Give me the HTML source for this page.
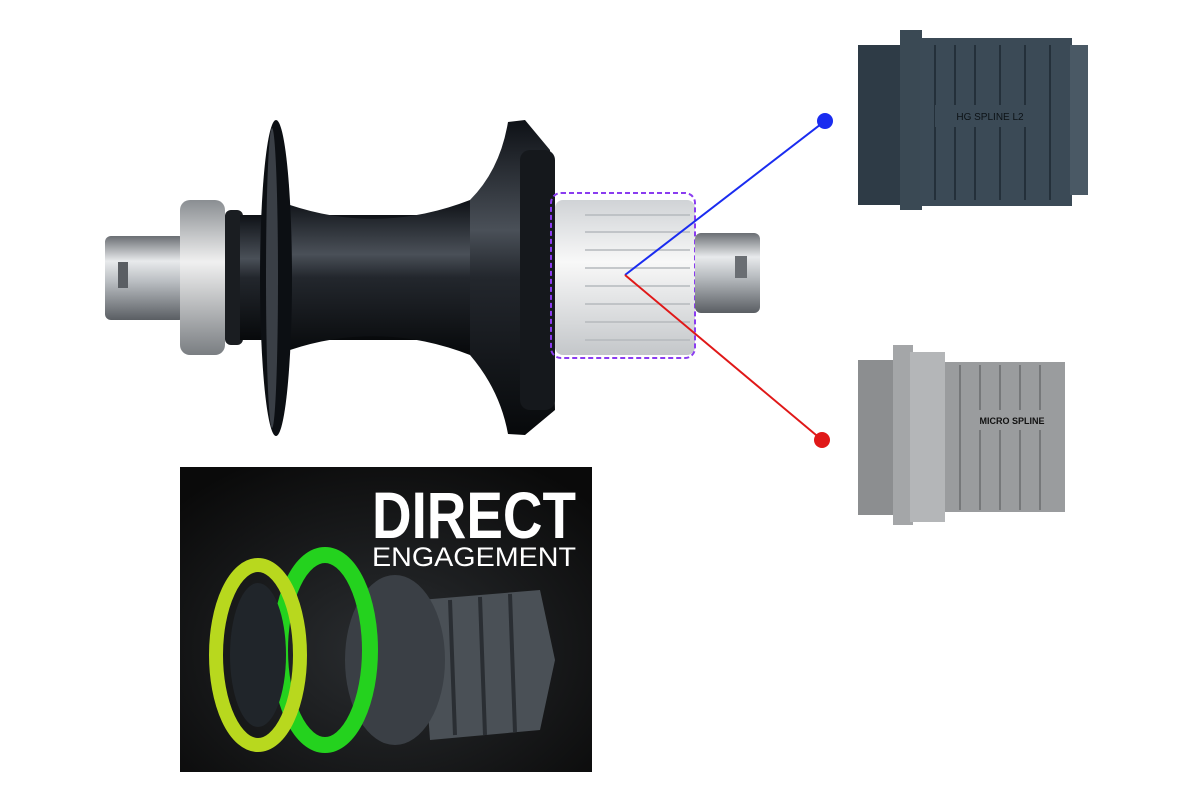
<!DOCTYPE html>
<html><head><meta charset="utf-8"><style>
html,body{margin:0;padding:0;background:#fff;}
svg{display:block;}
</style></head><body>
<svg width="1200" height="800" viewBox="0 0 1200 800" xmlns="http://www.w3.org/2000/svg">
<defs>
<linearGradient id="axle" x1="0" y1="0" x2="0" y2="1">
<stop offset="0" stop-color="#6a6e73"/><stop offset="0.3" stop-color="#e8eaec"/><stop offset="0.55" stop-color="#b8bcc0"/><stop offset="1" stop-color="#5a5e63"/></linearGradient>
<linearGradient id="dark" x1="0" y1="0" x2="0" y2="1">
<stop offset="0" stop-color="#0e1116"/><stop offset="0.35" stop-color="#4a5058"/><stop offset="0.5" stop-color="#23272d"/><stop offset="1" stop-color="#07090b"/></linearGradient>
<linearGradient id="fh" x1="0" y1="0" x2="0" y2="1">
<stop offset="0" stop-color="#d0d3d6"/><stop offset="0.4" stop-color="#f8f8f8"/><stop offset="1" stop-color="#c4c7ca"/></linearGradient>
<linearGradient id="silver" x1="0" y1="0" x2="0" y2="1">
<stop offset="0" stop-color="#8a8e92"/><stop offset="0.4" stop-color="#f0f0f0"/><stop offset="1" stop-color="#7a7e82"/></linearGradient>
<radialGradient id="bg2" cx="0.5" cy="0.6" r="0.7"><stop offset="0" stop-color="#2a2d30"/><stop offset="1" stop-color="#0a0a0a"/></radialGradient>
</defs>
<rect x="105" y="236" width="80" height="84" rx="6" fill="url(#axle)"/>
<rect x="118" y="262" width="10" height="26" fill="#5a5e63"/>
<rect x="180" y="200" width="45" height="155" rx="10" fill="url(#silver)"/>
<rect x="225" y="210" width="18" height="135" rx="6" fill="#1a1d21"/>
<path d="M240 215 L480 215 L480 340 L240 340 Z" fill="url(#dark)"/>
<path d="M290 205 Q380 235 470 200 L470 355 Q380 320 290 350 Z" fill="url(#dark)"/>
<ellipse cx="276" cy="278" rx="16" ry="158" fill="#0c0f13"/>
<ellipse cx="272" cy="278" rx="6" ry="150" fill="#3a3f46"/>
<path d="M470 200 Q500 170 508 122 L525 120 L550 150 L555 410 L525 435 L508 434 Q500 390 470 355 Z" fill="url(#dark)"/>
<rect x="520" y="150" width="35" height="260" rx="10" fill="#15181c"/>
<rect x="555" y="200" width="140" height="155" rx="8" fill="url(#fh)"/>
<g stroke="#b5b9bd" stroke-width="1.5">
<line x1="585" y1="215" x2="690" y2="215"/><line x1="585" y1="232" x2="690" y2="232"/>
<line x1="585" y1="250" x2="690" y2="250"/><line x1="585" y1="268" x2="690" y2="268"/>
<line x1="585" y1="286" x2="690" y2="286"/><line x1="585" y1="304" x2="690" y2="304"/>
<line x1="585" y1="322" x2="690" y2="322"/><line x1="585" y1="340" x2="690" y2="340"/>
</g>
<rect x="551" y="193" width="144" height="165" rx="10" fill="none" stroke="#8a3cf0" stroke-width="2" stroke-dasharray="5,3"/>
<rect x="695" y="233" width="65" height="80" rx="6" fill="url(#axle)"/>
<rect x="735" y="256" width="12" height="22" fill="#6a6e73"/>
<line x1="625" y1="275" x2="825" y2="121" stroke="#1a2cf0" stroke-width="2"/>
<circle cx="825" cy="121" r="8" fill="#1a2cf0"/>
<line x1="625" y1="275" x2="822" y2="440" stroke="#e01818" stroke-width="2"/>
<circle cx="822" cy="440" r="8" fill="#e01818"/>
<rect x="858" y="45" width="45" height="160" fill="#2e3b46"/>
<rect x="900" y="30" width="22" height="180" fill="#3a4954"/>
<rect x="920" y="38" width="152" height="168" fill="#3b4a56"/>
<rect x="1070" y="45" width="18" height="150" fill="#4a5965"/>
<g stroke="#24303a" stroke-width="2">
<line x1="935" y1="45" x2="935" y2="200"/><line x1="955" y1="45" x2="955" y2="200"/><line x1="975" y1="45" x2="975" y2="200"/>
<line x1="1000" y1="45" x2="1000" y2="200"/><line x1="1025" y1="45" x2="1025" y2="200"/><line x1="1050" y1="45" x2="1050" y2="200"/>
</g>
<rect x="935" y="105" width="110" height="22" fill="#3b4a56"/>
<text x="990" y="120" font-family="Liberation Sans, sans-serif" font-size="10" fill="#0c1216" text-anchor="middle">HG SPLINE L2</text>
<rect x="858" y="360" width="40" height="155" fill="#8c8e90"/>
<rect x="893" y="345" width="20" height="180" fill="#a4a6a8"/>
<rect x="910" y="352" width="35" height="170" fill="#b4b6b8"/>
<rect x="945" y="362" width="120" height="150" fill="#9a9c9e"/>
<g stroke="#6a6c6e" stroke-width="1.5">
<line x1="960" y1="365" x2="960" y2="510"/><line x1="980" y1="365" x2="980" y2="510"/><line x1="1000" y1="365" x2="1000" y2="510"/>
<line x1="1020" y1="365" x2="1020" y2="510"/><line x1="1040" y1="365" x2="1040" y2="510"/>
</g>
<rect x="965" y="410" width="95" height="20" fill="#9a9c9e"/>
<text x="1012" y="424" font-family="Liberation Sans, sans-serif" font-size="9" font-weight="bold" fill="#111" text-anchor="middle">MICRO SPLINE</text>
<rect x="180" y="467" width="412" height="305" fill="url(#bg2)"/>
<path d="M420 600 L540 590 L555 660 L540 730 L430 740 Z" fill="#4a5056"/>
<g stroke="#2a2e33" stroke-width="4"><line x1="450" y1="600" x2="455" y2="735"/><line x1="480" y1="597" x2="485" y2="735"/><line x1="510" y1="594" x2="515" y2="732"/></g>
<ellipse cx="395" cy="660" rx="50" ry="85" fill="#3a3f45"/>
<ellipse cx="325" cy="650" rx="45" ry="95" fill="none" stroke="#24d21e" stroke-width="16"/>
<ellipse cx="258" cy="655" rx="42" ry="90" fill="none" stroke="#b8d81e" stroke-width="14"/>
<ellipse cx="258" cy="655" rx="28" ry="72" fill="#20252a"/>
<text x="372" y="538" font-family="Liberation Sans, sans-serif" font-size="66" font-weight="bold" fill="#fff" textLength="204" lengthAdjust="spacingAndGlyphs">DIRECT</text>
<text x="372" y="566" font-family="Liberation Sans, sans-serif" font-size="27" fill="#fff" textLength="204" lengthAdjust="spacingAndGlyphs">ENGAGEMENT</text>
</svg>
</body></html>
